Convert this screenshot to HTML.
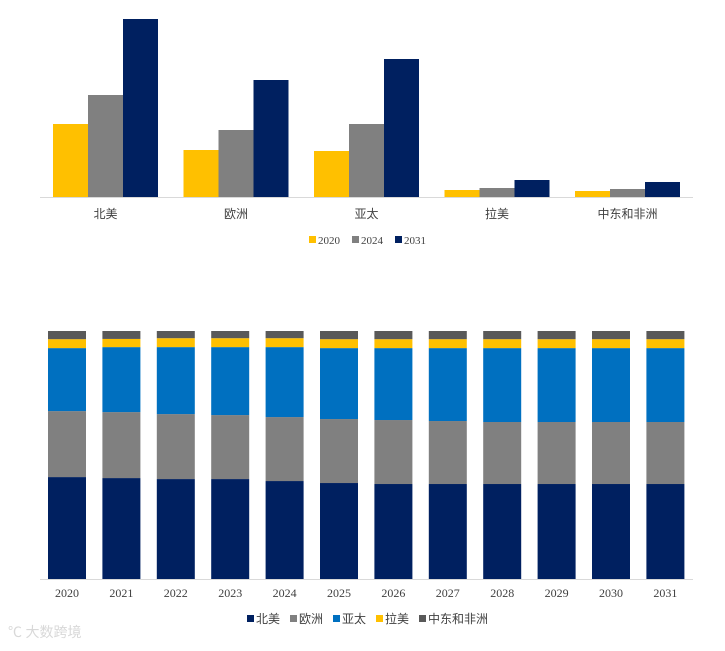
<!DOCTYPE html>
<html><head><meta charset="utf-8"><style>
body{margin:0;background:#fff;}
svg text{font-family:"Liberation Serif","Noto Sans CJK SC",serif;fill:#404040;}
</style></head><body>
<svg width="725" height="646" xmlns="http://www.w3.org/2000/svg">
<g id="topchart"></g>
<g id="botchart"></g>
<text x="8" y="637" font-size="14" style="fill:#d8d8d8">℃ 大数跨境</text>
</svg>
<script>
const regions=["北美","欧洲","亚太","拉美","中东和非洲"];
const years3=["2020","2024","2031"];
const v2020=[73,47,46,7,6];
const v2024=[102,67,73,9,8];
const v2031=[178,117,138,17,15];
const years=["2020","2021","2022","2023","2024","2025","2026","2027","2028","2029","2030","2031"];
const shNA=[41.1,40.7,40.3,40.3,39.5,38.7,38.3,38.3,38.3,38.3,38.3,38.3];
const shEU=[26.6,26.6,26.2,25.8,25.8,25.8,25.8,25.4,25.0,25.0,25.0,25.0];
const shAP=[25.4,26.2,27.0,27.4,28.2,28.6,29.0,29.4,29.8,29.8,29.8,29.8];
const shLA=[3.6,3.3,3.6,3.6,3.6,3.6,3.6,3.6,3.6,3.6,3.6,3.6];
const shME=[3.3,3.2,2.9,2.9,2.9,3.3,3.3,3.3,3.3,3.3,3.3,3.3];
const NS="http://www.w3.org/2000/svg";
function mk(p,t,a){const e=document.createElementNS(NS,t);for(const k in a)e.setAttribute(k,a[k]);p.appendChild(e);return e;}
const topG=document.getElementById('topchart');
const base1=197,gw=130.5;
const tScale=v=>v*1.0;
const cols3=["#ffc000","#808080","#002060"];
const ser3=[v2020,v2024,v2031];
regions.forEach((r,i)=>{
  const cx=105.5+gw*i;
  ser3.forEach((s,j)=>{
    const h=tScale(s[i]);
    const b=mk(topG,'rect',{x:cx-52.5+j*35,y:base1-h,width:35,height:h,fill:cols3[j]});
    
    
  });
  const t=mk(topG,'text',{x:cx,y:218,'text-anchor':'middle','font-size':12});
  t.textContent=r;
  
  
});
const ax1=mk(topG,'line',{x1:40,x2:693,y1:base1+0.5,y2:base1+0.5,stroke:'#d9d9d9'});


years3.forEach((y,j)=>{
  const lx=309+j*43;
  const sw=mk(topG,'rect',{x:lx,y:236,width:7,height:7,fill:cols3[j]});
  
  
  const t=mk(topG,'text',{x:lx+9,y:244,'font-size':11});
  t.textContent=y;
  
  
});
const botG=document.getElementById('botchart');
const base2=579,H=248,bw=54.4;
const sers=[shNA,shEU,shAP,shLA,shME];
const cols5=["#002060","#808080","#0070c0","#ffc000","#595959"];
years.forEach((y,i)=>{
  const tot=sers.reduce((a,s)=>a+s[i],0);
  let acc=0;
  const bx=48+bw*i;
  sers.forEach((s,k)=>{
    const h=s[i]/tot*H;
    const r=mk(botG,'rect',{x:bx,y:base2-acc-h,width:38,height:h,fill:cols5[k]});
    
    
    acc+=h;
  });
  const t=mk(botG,'text',{x:bx+19,y:597,'text-anchor':'middle','font-size':12});
  t.textContent=y;
  
  
});
const ax2=mk(botG,'line',{x1:40,x2:693,y1:base2+0.5,y2:base2+0.5,stroke:'#d9d9d9'});


const lxs=[247,290,333,376,419];
regions.forEach((r,k)=>{
  const sw=mk(botG,'rect',{x:lxs[k],y:615,width:7,height:7,fill:cols5[k]});
  
  
  const t=mk(botG,'text',{x:lxs[k]+9,y:623,'font-size':12});
  t.textContent=r;
  
  
});
</script>
</body></html>
